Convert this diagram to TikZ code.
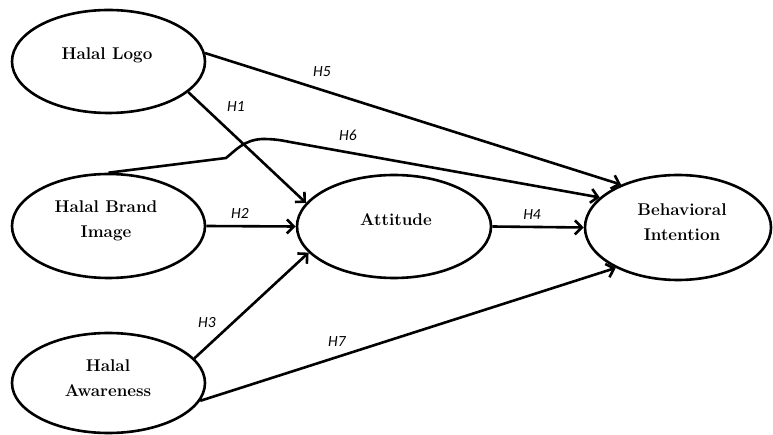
\documentclass[tikz,border=0pt]{standalone}
\usepackage{fontspec}
\newfontfamily\hypfont{Carlito}
\usetikzlibrary{shapes.geometric,arrows.meta}
\begin{document}
\begin{tikzpicture}[x=1pt,y=-1pt,
  construct/.style={ellipse,draw,line width=2.6pt,inner sep=0pt},
  cname/.style={font=\fontsize{17}{25}\selectfont\bfseries,align=center,inner sep=0pt},
  link/.style={line width=2.6pt,-{Straight Barb[length=7pt,width=14pt]}},
  hyp/.style={font=\hypfont\itshape\fontsize{15.5}{15.5}\selectfont,inner sep=0pt}
]
\useasboundingbox (0,0) rectangle (773,435);

% constructs
\node[construct,minimum width=193pt,minimum height=103pt] (hl)  at (108.5,61.5) {};
\node[construct,minimum width=193pt,minimum height=104pt] (hbi) at (108.5,226) {};
\node[construct,minimum width=193pt,minimum height=100pt] (aw)  at (108.5,383) {};
\node[construct,minimum width=194pt,minimum height=103pt] (att) at (394,226.5) {};
\node[construct,minimum width=186pt,minimum height=105pt] (bi)  at (678,227.5) {};

\node[cname] (hl-t)  at (107,55)  {Halal Logo};
\node[cname] (hbi-t) at (106,221) {Halal Brand\\Image};
\node[cname] (aw-t)  at (108,378) {Halal\\Awareness};
\node[cname] (att-t) at (396,220) {Attitude};
\node[cname] (bi-t)  at (682,222) {Behavioral\\Intention};

% hypothesised paths
\draw[link] (hl.-21) -- (att.165);
\draw[link] (hbi.east) -- (att.west);
\draw[link] (aw.16) -- (att.197);
\draw[link] (att.east) -- (bi.west);
\draw[link] (hl.5) -- (bi.143);
\draw[link] (hbi.north) -- (226,158) .. controls (236,150) and (244,140) .. (262,139)
  .. controls (274,139) and (280,140) .. (290,142) -- (bi.159);
\draw[link] (aw.-11) -- (bi.213);

% path labels
\node[hyp] (h1) at (236,107) {H1};
\node[hyp] (h2) at (240,213) {H2};
\node[hyp] (h3) at (207,323) {H3};
\node[hyp] (h4) at (532,215) {H4};
\node[hyp] (h5) at (322,72)  {H5};
\node[hyp] (h6) at (348,135) {H6};
\node[hyp] (h7) at (337,342) {H7};
\end{tikzpicture}
\end{document}
